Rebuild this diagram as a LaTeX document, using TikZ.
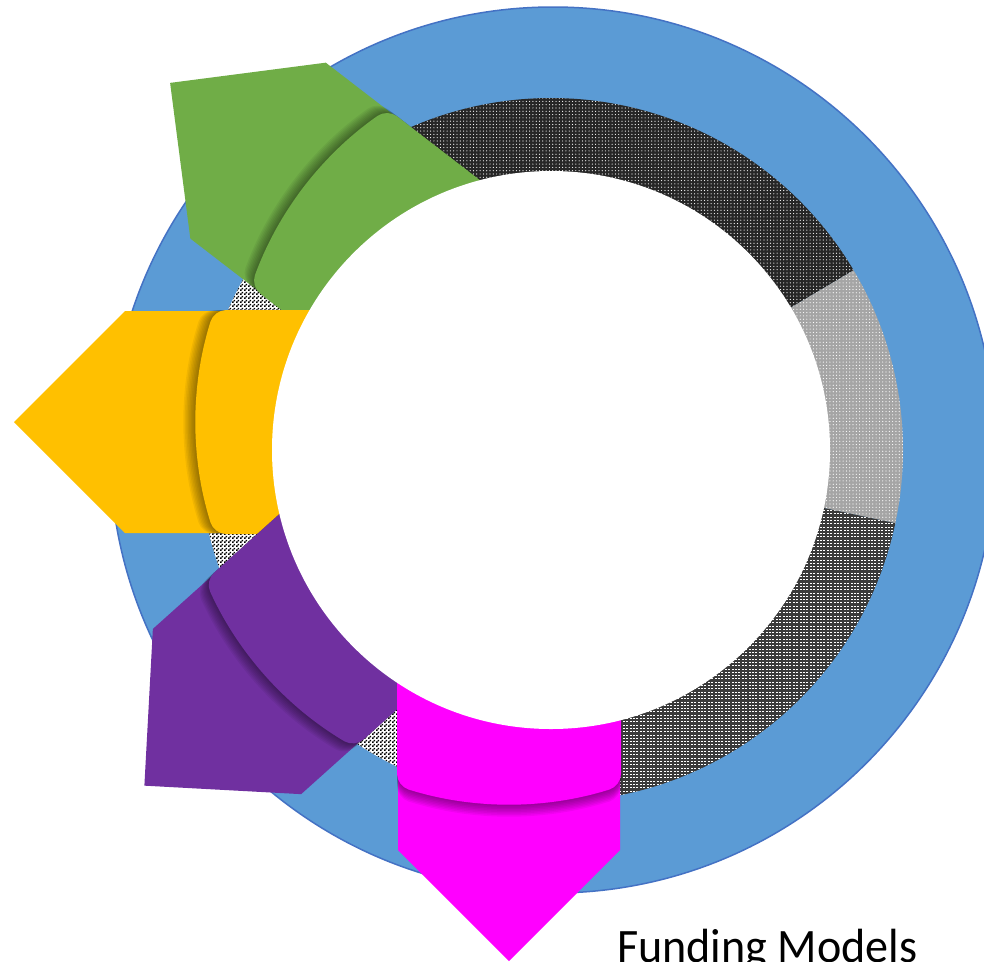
\documentclass[tikz,border=0pt]{standalone}
\usepackage{fontspec}
\newfontfamily\capfont{Carlito}
\usetikzlibrary{patterns}
\definecolor{ringblue}{HTML}{5B9BD5}
\definecolor{ringedge}{HTML}{4472C4}
\definecolor{segdark}{HTML}{262626}
\definecolor{seglight}{HTML}{A5A5A5}
\definecolor{segmid}{HTML}{3A3A3A}
\definecolor{cgreen}{HTML}{70AD47}
\definecolor{cyellow}{HTML}{FFC000}
\definecolor{cpurple}{HTML}{7030A0}
\definecolor{cmagenta}{HTML}{FF00FF}
\pgfdeclarepatternformonly{wdots}{\pgfqpoint{-1pt}{-1pt}}{\pgfqpoint{4pt}{4pt}}{\pgfqpoint{3.3pt}{3.3pt}}{\pgfpathcircle{\pgfqpoint{1.6pt}{1.6pt}}{0.6pt}\pgfusepath{fill}}
\pgfdeclarepatternformonly{wdash}{\pgfqpoint{-1pt}{-1pt}}{\pgfqpoint{4pt}{4pt}}{\pgfqpoint{3.4pt}{3.3pt}}{\pgfpathrectangle{\pgfqpoint{0.6pt}{1.2pt}}{\pgfqpoint{1.9pt}{0.9pt}}\pgfusepath{fill}}
\pgfdeclarepatternformonly{fchk}{\pgfpointorigin}{\pgfqpoint{3.6pt}{3.6pt}}{\pgfqpoint{3.6pt}{3.6pt}}{\pgfpathrectangle{\pgfpointorigin}{\pgfqpoint{1.8pt}{1.8pt}}\pgfpathrectangle{\pgfqpoint{1.8pt}{1.8pt}}{\pgfqpoint{1.8pt}{1.8pt}}\pgfusepath{fill}}
% ring segment: start angle, end angle, options
\newcommand\ringseg[3]{\path[shift={(551,450)},#3] (#1:352) arc[start angle=#1,end angle=#2,radius=352] -- (#2:270) arc[start angle=#2,end angle=#1,radius=270] -- cycle;}
% block (curved plate) with outward offset
\newcommand\blk[1]{[rounded corners=12pt] ({-200+#1},-112) -- ({-19+#1},-112) -- ({-10.5+#1},-84) -- ({-4.6+#1},-56) -- ({-1.2+#1},-28) -- ({#1},0) -- ({-1.2+#1},28) -- ({-4.6+#1},56) -- ({-10.5+#1},84) -- ({-19+#1},112) -- ({-200+#1},112) -- cycle}
% element: apex x, apex y, rotation, shoulder distance, colour
\newcommand\elem[5]{%
\begin{scope}[shift={(#1,#2)},rotate=#3]
\fill[#5] (-40,-111) -- (#4,-111) -- ({#4+111},0) -- (#4,111) -- (-40,111) -- cycle;
\foreach \s in {1.5,3,...,12}{\fill[black,opacity=0.055] \blk{\s};}
\fill[#5] \blk{0};
\end{scope}}
\begin{document}
\begin{tikzpicture}[x=1pt,y=-1pt]
\useasboundingbox (0,0) rectangle (984,961);
\clip (0,0) rectangle (984,961);
\fill[white] (0,0) rectangle (984,961);
% outer blue disc
\fill[ringblue, draw=ringedge, line width=1.5pt] (553,450) circle[radius=443];
% patterned ring segments
\ringseg{-135}{-30.7}{fill=segdark, postaction={pattern=wdots, pattern color=white}}
\ringseg{-30.7}{12}{fill=seglight, postaction={pattern=wdots, pattern color=white}}
\ringseg{12}{95}{fill=segmid, postaction={pattern=wdash, pattern color=white}}
\ringseg{95}{225}{fill=white, postaction={pattern=fchk, pattern color=black}}
% coloured arrows with curved plates
\elem{304}{186}{142.4}{58}{cgreen}
\elem{195}{422}{180}{70}{cyellow}
\elem{265.7}{676.8}{-138.1}{52}{cpurple}
\elem{509}{805}{-90}{45}{cmagenta}
% inner white disc
\fill[white] (551,450) circle[radius=279];
% caption
\node[font=\capfont\fontsize{48}{58}\selectfont, anchor=base west, inner sep=0pt, xscale=0.96] (title) at (617,962) {Funding Models};
\end{tikzpicture}
\end{document}
